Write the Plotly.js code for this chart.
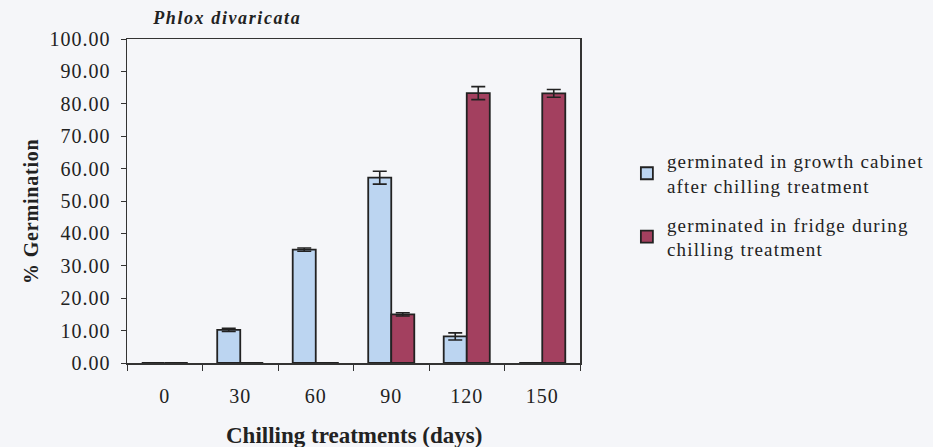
<!DOCTYPE html>
<html>
<head>
<meta charset="utf-8">
<script src="https://cdn.plot.ly/plotly-3.0.1.min.js"></script>
<style>
html,body{margin:0;padding:0;background:#f5f6f9;}
#chart .legend, #chart .legend *{clip-path:none !important;}
#chart .legendtext{letter-spacing:1.2px;}
#chart .xtick text, #chart .ytick text{letter-spacing:1px;}
#chart g.annotation[data-index="0"] text{letter-spacing:1.6px;}
#chart g.annotation[data-index="1"] text{letter-spacing:0.8px;}
</style>
</head>
<body>
<div id="chart" style="width:933px;height:447px;"></div>
<script>
const categories = ["0", "30", "60", "90", "120", "150"];
const cabinetName = "germinated in growth cabinet<br>after chilling treatment";
const cabinetValues = [0, 10.2, 35.0, 57.2, 8.2, 0];
const cabinetErrors = [0, 0.5, 0.5, 2.0, 1.1, 0];
const fridgeName = "germinated in fridge during<br>chilling treatment";
const fridgeValues = [0, 0, 0, 15.0, 83.3, 83.2];
const fridgeErrors = [0, 0, 0, 0.5, 2.0, 1.2];
const yTicks = [0, 10, 20, 30, 40, 50, 60, 70, 80, 90, 100];

const serif = "Liberation Serif, Times New Roman, serif";
const errStyle = (arr) => ({type: "data", array: arr, visible: true, color: "#222", thickness: 1.6, width: 7});

const traces = [
  {type: "bar", name: cabinetName, legendgroup: "cabinet", x: categories, y: cabinetValues,
   marker: {color: "#bcd5f1", line: {color: "#222", width: 1.8}},
   error_y: errStyle(cabinetErrors)},
  {type: "bar", name: fridgeName, legendgroup: "fridge", x: categories, y: fridgeValues,
   marker: {color: "#a3405f", line: {color: "#222", width: 1.8}},
   error_y: errStyle(fridgeErrors)}
];

const layout = {
  width: 933, height: 447,
  paper_bgcolor: "#f5f6f9", plot_bgcolor: "rgba(0,0,0,0)",
  margin: {l: 127, r: 353, t: 39, b: 84},
  barmode: "group", bargap: 0.39, bargroupgap: 0,
  font: {family: serif, size: 19, color: "#222"},
  showlegend: true,
  legend: {x: 1.1035, y: 0.682, xanchor: "left", yanchor: "top",
    font: {family: serif, size: 19, color: "#222"}, bgcolor: "rgba(0,0,0,0)",
    tracegroupgap: 11, itemwidth: 30},
  xaxis: {type: "category", showline: true, linecolor: "#333", linewidth: 1.5, mirror: true,
    ticks: "outside", tickson: "boundaries", ticklen: 6, tickcolor: "#333",
    ticklabelstandoff: 14,
    tickfont: {family: serif, size: 20, color: "#222"}, showgrid: false},
  yaxis: {range: [0, 100], tickvals: yTicks, tickformat: ".2f", showline: true, linecolor: "#333",
    linewidth: 1.5, mirror: true, ticks: "outside", ticklen: 5, tickcolor: "#333",
    ticklabelstandoff: 6,
    tickfont: {family: serif, size: 20, color: "#222"}, showgrid: false, zeroline: false},
  annotations: [
    {text: "<b><i>Phlox divaricata</i></b>", xref: "paper", yref: "paper", x: 0.22, y: 1.0,
     xanchor: "center", yanchor: "middle", yshift: 21, showarrow: false,
     font: {family: serif, size: 18, color: "#222"}},
    {text: "<b>% Germination</b>", xref: "paper", yref: "paper", x: 0, xshift: -109, y: 0.467,
     textangle: -90, showarrow: false, font: {family: serif, size: 20, color: "#222"}},
    {text: "<b>Chilling treatments (days)</b>", xref: "paper", yref: "paper", x: 0.5, y: 0,
     yanchor: "middle", yshift: -72, showarrow: false, font: {family: serif, size: 23, color: "#222"}}
  ]
};

Plotly.newPlot("chart", traces, layout, {displayModeBar: false, staticPlot: true});
</script>
</body>
</html>
